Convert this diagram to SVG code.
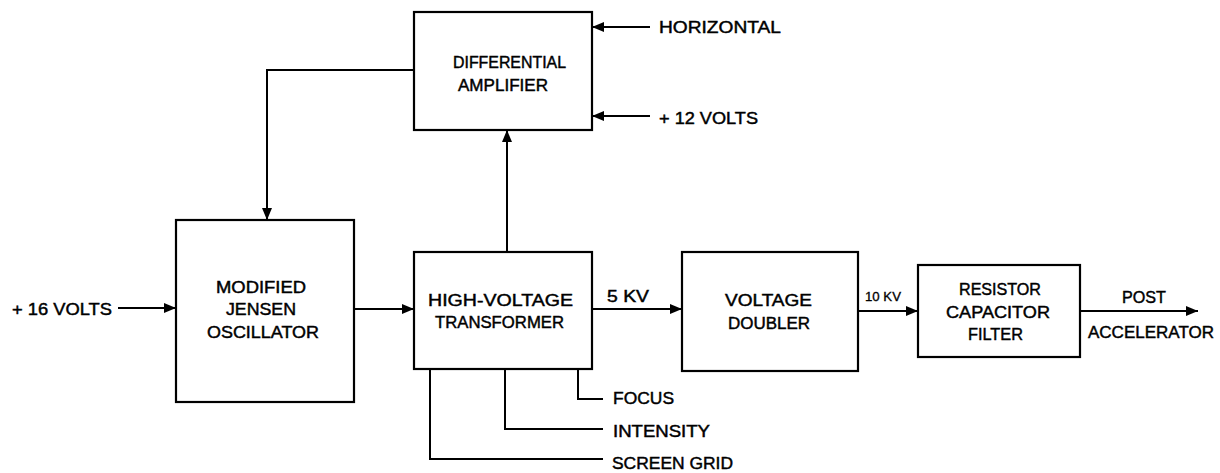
<svg xmlns="http://www.w3.org/2000/svg" width="1220" height="473" viewBox="0 0 1220 473">
<style>
.box{fill:none;stroke:#000;stroke-width:2.2}
.ln{fill:none;stroke:#000;stroke-width:2}
text{font-family:"Liberation Sans",Arial,sans-serif;font-size:17px;fill:#000;stroke:#000;stroke-width:0.45}
.s{font-size:12px;stroke-width:0.3}
</style>
<defs>
<marker id="ah" viewBox="0 0 12 10" refX="12" refY="5" markerWidth="12" markerHeight="10" markerUnits="userSpaceOnUse" orient="auto">
<path d="M0,0 L12,5 L0,10 Z" fill="#000"/>
</marker>
</defs>
<rect width="1220" height="473" fill="#fff"/>
<g id="connectors">
<path class="ln" d="M414,70 H267 V220" marker-end="url(#ah)"/>
<path class="ln" d="M507,252 V130" marker-end="url(#ah)"/>
<path class="ln" d="M650,27 H592" marker-end="url(#ah)"/>
<path class="ln" d="M650,116 H592" marker-end="url(#ah)"/>
<path class="ln" d="M118,308 H176" marker-end="url(#ah)"/>
<path class="ln" d="M354,309 H414" marker-end="url(#ah)"/>
<path class="ln" d="M592,309 H682" marker-end="url(#ah)"/>
<path class="ln" d="M858,311 H918" marker-end="url(#ah)"/>
<path class="ln" d="M1080,311 H1198" marker-end="url(#ah)"/>
<path class="ln" d="M578,369 V399 H603"/>
<path class="ln" d="M505,369 V429 H603"/>
<path class="ln" d="M430,369 V459 H603"/>
</g>
<g id="differential-amplifier">
<rect class="box" x="414" y="12" width="178" height="118"/>
<text x="453" y="68" textLength="113" lengthAdjust="spacingAndGlyphs">DIFFERENTIAL</text>
<text x="458" y="91" textLength="90" lengthAdjust="spacingAndGlyphs">AMPLIFIER</text>
</g>
<g id="oscillator">
<rect class="box" x="176" y="220" width="178" height="182"/>
<text x="216" y="293" textLength="90" lengthAdjust="spacingAndGlyphs">MODIFIED</text>
<text x="226" y="315" textLength="70" lengthAdjust="spacingAndGlyphs">JENSEN</text>
<text x="207" y="338" textLength="112" lengthAdjust="spacingAndGlyphs">OSCILLATOR</text>
</g>
<g id="hv-transformer">
<rect class="box" x="414" y="252" width="178" height="117"/>
<text x="428" y="306" textLength="145" lengthAdjust="spacingAndGlyphs">HIGH-VOLTAGE</text>
<text x="435" y="328" textLength="129" lengthAdjust="spacingAndGlyphs">TRANSFORMER</text>
</g>
<g id="voltage-doubler">
<rect class="box" x="682" y="252" width="176" height="119"/>
<text x="725" y="306" textLength="87" lengthAdjust="spacingAndGlyphs">VOLTAGE</text>
<text x="728" y="329" textLength="82" lengthAdjust="spacingAndGlyphs">DOUBLER</text>
</g>
<g id="rc-filter">
<rect class="box" x="918" y="265" width="162" height="92"/>
<text x="959" y="295" textLength="82" lengthAdjust="spacingAndGlyphs">RESISTOR</text>
<text x="946" y="318" textLength="104" lengthAdjust="spacingAndGlyphs">CAPACITOR</text>
<text x="968" y="340" textLength="55" lengthAdjust="spacingAndGlyphs">FILTER</text>
</g>
<g id="labels">
<text x="12" y="315" textLength="100" lengthAdjust="spacingAndGlyphs">+ 16 VOLTS</text>
<text x="659" y="33" textLength="122" lengthAdjust="spacingAndGlyphs">HORIZONTAL</text>
<text x="659" y="124" textLength="99" lengthAdjust="spacingAndGlyphs">+ 12 VOLTS</text>
<text x="607" y="302" textLength="42" lengthAdjust="spacingAndGlyphs">5 KV</text>
<text class="s" x="865" y="301" textLength="36" lengthAdjust="spacingAndGlyphs">10 KV</text>
<text x="1122" y="303" textLength="44" lengthAdjust="spacingAndGlyphs">POST</text>
<text x="1088" y="338" textLength="126" lengthAdjust="spacingAndGlyphs">ACCELERATOR</text>
<text x="613" y="404" textLength="61" lengthAdjust="spacingAndGlyphs">FOCUS</text>
<text x="613" y="437" textLength="97" lengthAdjust="spacingAndGlyphs">INTENSITY</text>
<text x="612" y="469" textLength="121" lengthAdjust="spacingAndGlyphs">SCREEN GRID</text>
</g>
</svg>
